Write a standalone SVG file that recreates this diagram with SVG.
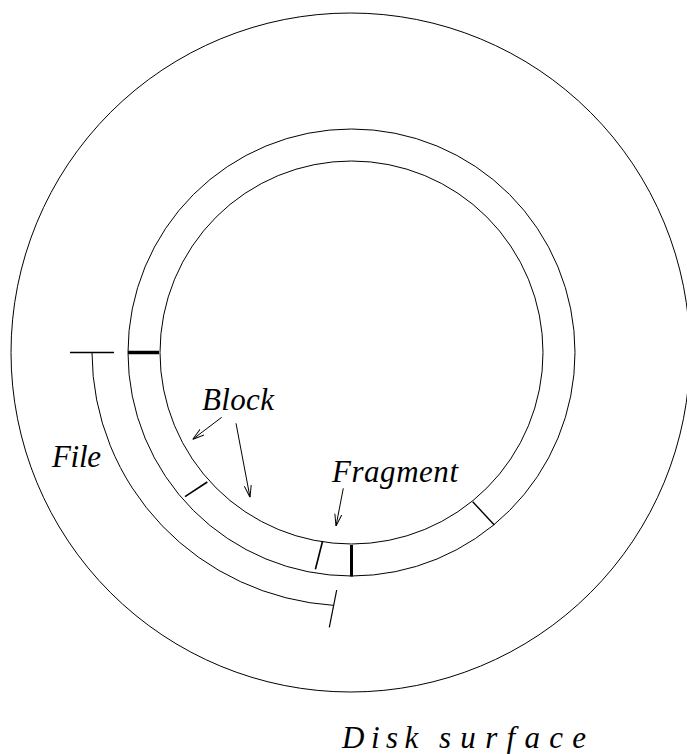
<svg xmlns="http://www.w3.org/2000/svg" width="687" height="754" viewBox="0 0 687 754">
  <style>
    .ln { fill: none; stroke: #000; stroke-width: 1; }
    .mark { stroke: #000; stroke-width: 1.6; fill: none; }
    .thick { stroke: #000; stroke-width: 3.5; fill: none; }
    .lbl { font-family: "Liberation Serif", "Times New Roman", serif; font-style: italic; font-size: 31px; fill: #000; }
  </style>
  <defs>
    <marker id="open" viewBox="0 0 12 8" refX="12" refY="4" markerWidth="12" markerHeight="8" markerUnits="userSpaceOnUse" orient="auto">
      <path d="M0,0.5 L12,4 L0,7.5" fill="none" stroke="#000" stroke-width="1"/>
    </marker>
  </defs>

  <rect width="687" height="754" fill="#fff"/>

  <!-- disk surface -->
  <g id="disk">
    <circle class="ln" cx="350.5" cy="352.5" r="339.5"/>
  </g>

  <!-- track: two concentric circles -->
  <g id="track">
    <circle class="ln" cx="351.5" cy="352.5" r="223.5"/>
    <circle class="ln" cx="351.5" cy="352.5" r="191.5"/>
  </g>

  <!-- block boundaries on the track -->
  <g id="blocks">
    <line class="thick" x1="128" y1="352.5" x2="159" y2="352.5"/>
    <line class="mark" x1="185" y1="496.7" x2="207.3" y2="482"/>
    <line class="mark" x1="322.6" y1="541" x2="315.4" y2="569.3"/>
    <line class="thick" x1="351.5" y1="545" x2="351.5" y2="576.5" style="stroke-width:3"/>
    <line class="mark" x1="472.7" y1="501.7" x2="494.3" y2="525" style="stroke-width:1.4"/>
  </g>

  <!-- file extent -->
  <g id="file">
    <path class="ln" d="M92,352.5 A259,254 0 0,0 334,605.4"/>
    <line class="mark" x1="70" y1="352.5" x2="114" y2="352.5"/>
    <line class="mark" x1="336.7" y1="590" x2="329.3" y2="627.3" style="stroke-width:1.2"/>
  </g>

  <!-- connectors -->
  <g id="connectors">
    <line class="ln" x1="221.7" y1="417.3" x2="192.7" y2="439.3" marker-end="url(#open)"/>
    <line class="ln" x1="236" y1="423.3" x2="250" y2="497.3" marker-end="url(#open)"/>
    <line class="ln" x1="343.3" y1="488.3" x2="336" y2="526" marker-end="url(#open)"/>
  </g>

  <!-- labels -->
  <g id="labels">
    <text class="lbl" x="202" y="410" textLength="72" lengthAdjust="spacing">Block</text>
    <text class="lbl" x="52" y="467" textLength="49" lengthAdjust="spacing">File</text>
    <text class="lbl" x="332" y="482" textLength="126" lengthAdjust="spacing">Fragment</text>
    <text class="lbl" x="342" y="748"><tspan letter-spacing="6.5">Disk</tspan> <tspan x="439" letter-spacing="9.3">surface</tspan></text>
  </g>
</svg>
